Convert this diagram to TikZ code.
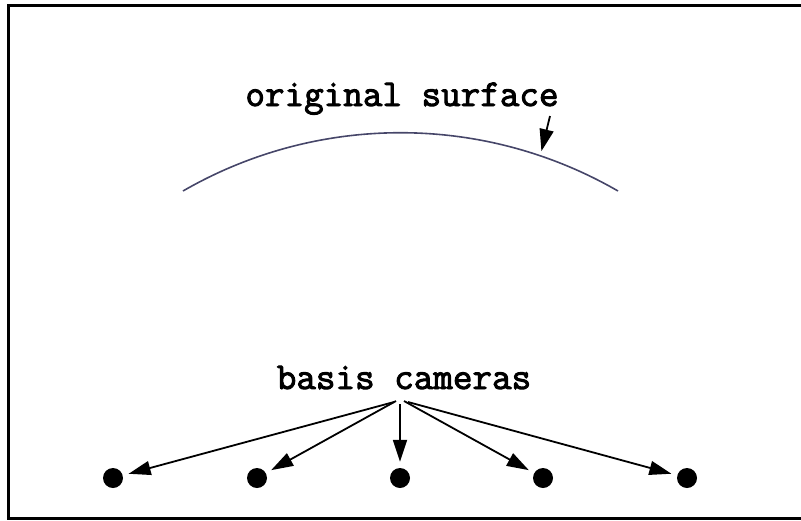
\documentclass[tikz,border=0pt]{standalone}
\usepackage{fontspec}
\newfontfamily\lblfont[FakeBold=2.5]{Latin Modern Mono}
\usetikzlibrary{arrows.meta}
\tikzset{
  lbl/.style={font=\fontsize{38}{40}\selectfont\lblfont, inner sep=0pt},
  cam/.style={circle, fill=black, minimum size=20pt, inner sep=0pt},
  pointer/.style={-{Triangle[length=22pt,width=14pt]}, line width=1.8pt, shorten >=6pt}
}
\definecolor{surfcol}{RGB}{70,70,105}
\begin{document}
\begin{tikzpicture}[x=1pt,y=-1pt]
  \useasboundingbox (0,0) rectangle (801,520);
  \draw[line width=3pt] (8.5,5) rectangle (812,518.5);
  % surface and its label
  \draw[surfcol, line width=1.6pt] (183,191) arc[start angle=-120, end angle=-60, radius=435];
  \node[lbl, anchor=base] (surf) at (402,106) {original surface};
  \coordinate (surftail) at (550,116);
  \coordinate (surfhead) at (540,157);
  \draw[pointer] (surftail) -- (surfhead);
  % cameras
  \node[lbl, anchor=base] (basis) at (404,389) {basis cameras};
  \coordinate (hub) at (400,404);
  \foreach \x [count=\i] in {113,257,400,543,687}
    \node[cam] (c\i) at (\x,478) {};
  \draw[pointer] ([xshift=-6pt,yshift=2pt]hub) -- (c1);
  \draw[pointer] ([xshift=-4pt,yshift=3pt]hub) -- (c2);
  \draw[pointer] (hub) -- (c3);
  \draw[pointer] ([xshift=4pt,yshift=3pt]hub) -- (c4);
  \draw[pointer] ([xshift=8pt,yshift=2pt]hub) -- (c5);
\end{tikzpicture}
\end{document}
